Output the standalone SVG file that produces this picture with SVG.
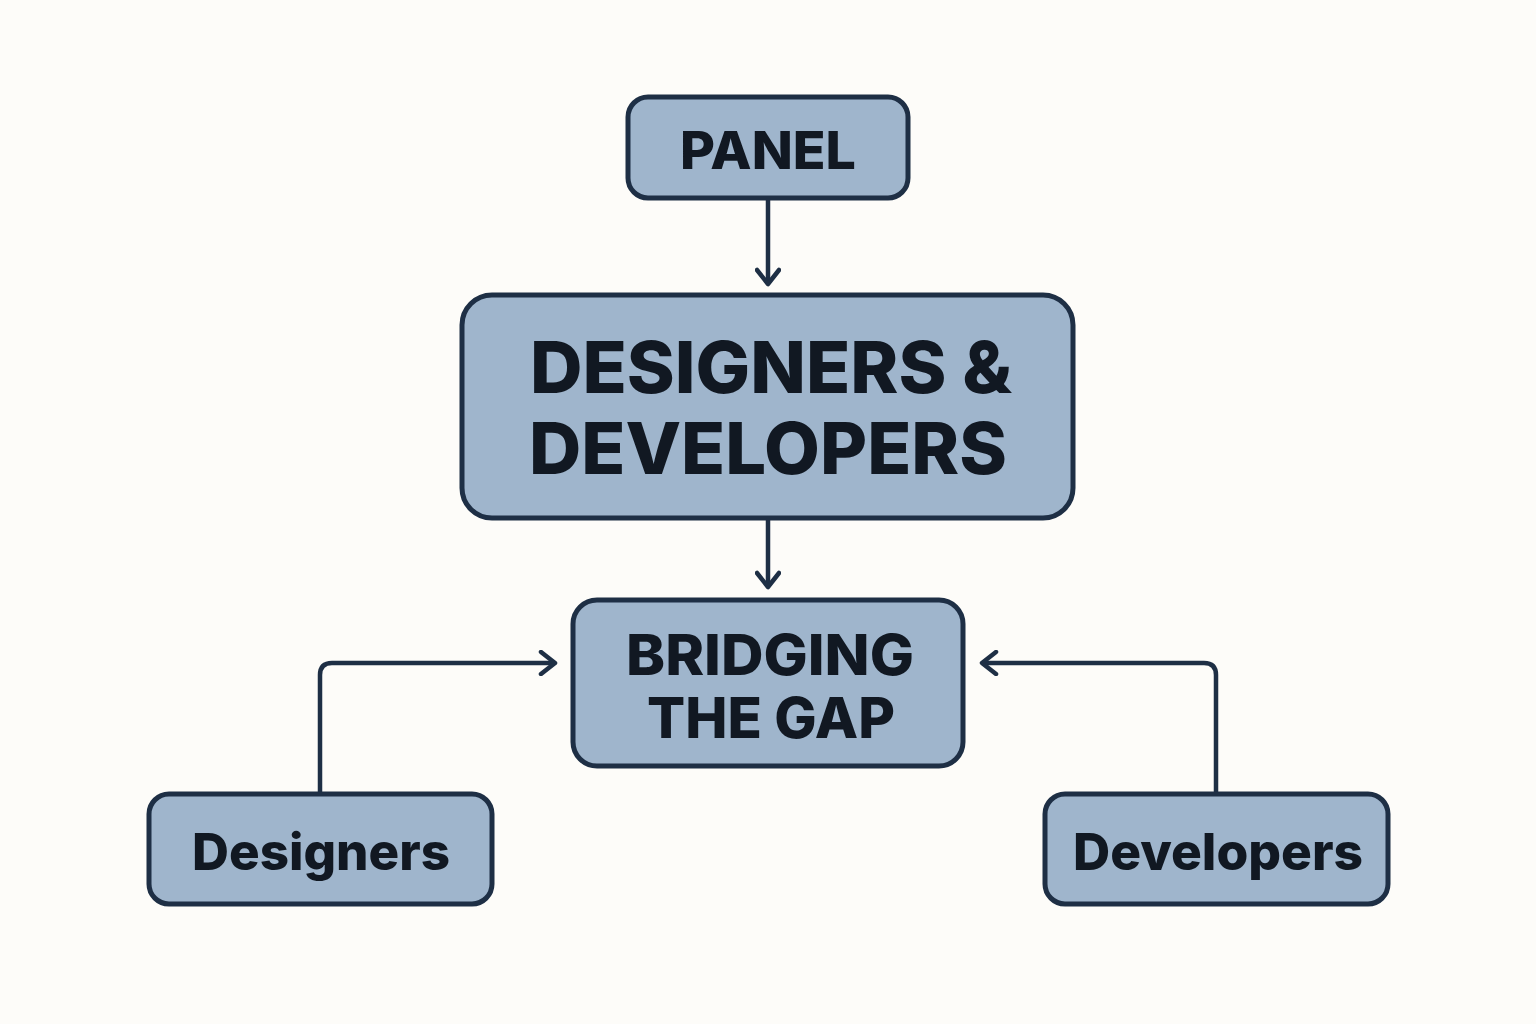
<svg xmlns="http://www.w3.org/2000/svg" width="1536" height="1024" viewBox="0 0 1536 1024">
<defs>
<marker id="ah" viewBox="0 0 26 26" refX="22" refY="13" markerWidth="26" markerHeight="26" markerUnits="userSpaceOnUse" orient="auto">
<path d="M8,2 L22,13 L8,24" fill="none" stroke="#1e2f45" stroke-width="4.5" stroke-linecap="round" stroke-linejoin="round"/>
</marker>
</defs>
<style>
.box{fill:#9fb5cc;stroke:#1e2f45;stroke-width:5}
.t{font-family:Inter,"Liberation Sans",sans-serif;font-weight:800;fill:#111822;text-anchor:middle}
.c{fill:none;stroke:#1e2f45;stroke-width:4.5;stroke-linejoin:round}
</style>
<rect width="1536" height="1024" fill="#fdfcf9"/>
<g id="connectors">
<path class="c" d="M768,200 V284" marker-end="url(#ah)"/>
<path class="c" d="M768,520 V587" marker-end="url(#ah)"/>
<path class="c" d="M320,792 V675 Q320,663 332,663 H555" marker-end="url(#ah)"/>
<path class="c" d="M1216,792 V675 Q1216,663 1204,663 H982" marker-end="url(#ah)"/>
</g>
<g id="panel"><rect class="box" x="628" y="97" width="280" height="101" rx="20"/><text class="t" x="768" y="169" font-size="52" textLength="176" lengthAdjust="spacingAndGlyphs">PANEL</text></g>
<g id="dd"><rect class="box" x="462" y="295" width="611" height="223" rx="30"/><text class="t" x="771" y="393" font-size="72" textLength="482" lengthAdjust="spacingAndGlyphs">DESIGNERS &amp;</text><text class="t" x="768" y="474" font-size="72" textLength="478" lengthAdjust="spacingAndGlyphs">DEVELOPERS</text></g>
<g id="bridge"><rect class="box" x="573" y="600" width="390" height="166" rx="24"/><text class="t" x="770" y="675" font-size="56" textLength="288" lengthAdjust="spacingAndGlyphs">BRIDGING</text><text class="t" x="771" y="738" font-size="56" textLength="248" lengthAdjust="spacingAndGlyphs">THE GAP</text></g>
<g id="designers"><rect class="box" x="149" y="794" width="343" height="110" rx="20"/><text class="t" x="321" y="870" font-size="51" textLength="258" lengthAdjust="spacingAndGlyphs">Designers</text></g>
<g id="developers"><rect class="box" x="1045" y="794" width="343" height="110" rx="20"/><text class="t" x="1218" y="870" font-size="51" textLength="290" lengthAdjust="spacingAndGlyphs">Developers</text></g>
</svg>
